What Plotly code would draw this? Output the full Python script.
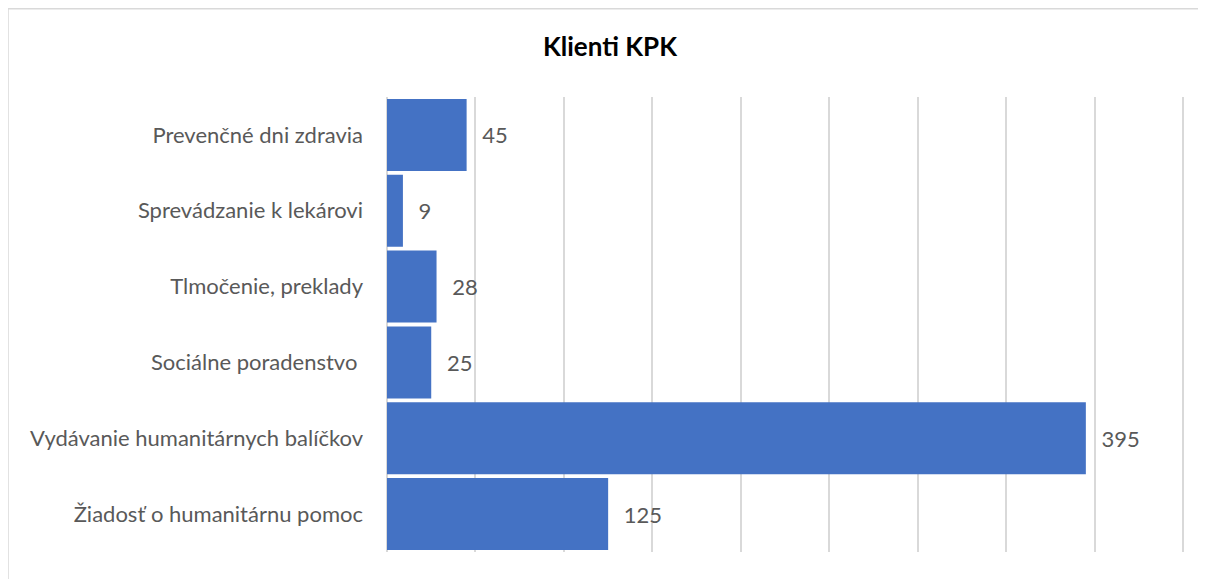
import plotly.graph_objects as go

categories = [
    "Prevenčné dni zdravia",
    "Sprevádzanie k lekárovi",
    "Tlmočenie, preklady",
    "Sociálne poradenstvo\u00a0",
    "Vydávanie humanitárnych balíčkov",
    "Žiadosť o humanitárnu pomoc",
]
values = [45, 9, 28, 25, 395, 125]
grid_ticks = [0, 50, 100, 150, 200, 250, 300, 350, 400, 450]
title_text = "Klienti KPK"

W, H = 1206, 579
L, R, T, B = 379, 22, 89, 35
pw, ph = W - L - R, H - T - B

def px_x(p):
    return (p - L) / pw

def px_y(p):
    return (H - B - p) / ph

fig = go.Figure(go.Bar(
    y=categories, x=values, orientation="h",
    marker=dict(color="#4472C4", line=dict(width=0)),
    text=["\u00a0\u00a0\u200a" + str(v) for v in values], textposition="outside",
    textfont=dict(color="#595959", size=22, family="Lato"),
    cliponaxis=False,
))

fig.update_layout(
    width=W, height=H,
    margin=dict(l=L, r=R, t=T, b=B, autoexpand=False),
    paper_bgcolor="white", plot_bgcolor="white",
    font=dict(family="Lato, sans-serif", color="#595959", size=22),
    bargap=0.05,
    showlegend=False,
    title=dict(text="<b>" + title_text + "</b>", x=602 / W, xanchor="center",
               y=1 - 39 / H, yanchor="middle",
               font=dict(size=26, color="#000000", family="Lato")),
    xaxis=dict(range=[0, 455], tickvals=grid_ticks,
               showticklabels=False,
               showgrid=True, gridcolor="#d9d9d9", gridwidth=1.5,
               zeroline=True, zerolinecolor="#d9d9d9", zerolinewidth=1.5,
               showline=False, fixedrange=True),
    yaxis=dict(autorange="reversed", showgrid=False, showline=False,
               ticks="", ticklabelstandoff=23, fixedrange=True,
               tickfont=dict(size=22, color="#595959", family="Lato")),
    shapes=[
        dict(type="line", xref="paper", yref="paper",
             x0=px_x(0), x1=px_x(W + 10), y0=px_y(0.75), y1=px_y(0.75),
             line=dict(color="#d9d9d9", width=1.5)),
        dict(type="line", xref="paper", yref="paper",
             x0=px_x(0), x1=px_x(0), y0=px_y(0), y1=px_y(H),
             line=dict(color="#d9d9d9", width=1.5)),
    ],
)

fig.write_html("out.html")
